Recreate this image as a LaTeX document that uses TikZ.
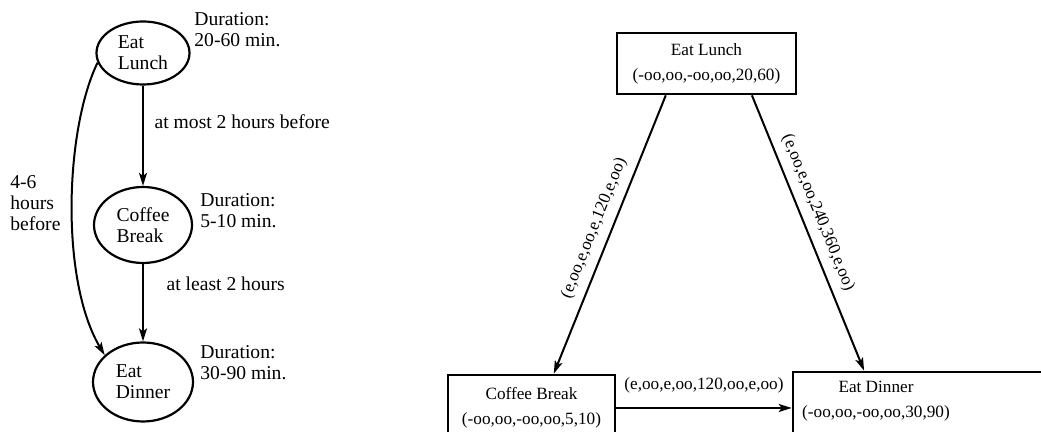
\documentclass[tikz,border=0pt]{standalone}
\usepackage{fontspec}
\setmainfont{Liberation Serif}
\usetikzlibrary{arrows.meta,shapes.geometric}

\newcommand{\graphfont}{\fontsize{9.8}{10.4}\selectfont}
\newcommand{\netfont}{\fontsize{8.6}{12.5}\selectfont}

\begin{document}
\begin{tikzpicture}[x=0.5pt, y=-0.5pt,
  act/.style={draw, ellipse, line width=1.1pt, inner sep=0pt, align=left, font=\graphfont},
  note/.style={anchor=west, align=left, inner sep=0pt, font=\graphfont},
  arr/.style={line width=1pt, -{Stealth[length=6.5pt,width=4pt,inset=1.5pt]}},
  box/.style={draw, line width=1.3pt, inner sep=0pt, align=center, font=\netfont},
  tuple/.style={font=\netfont, sloped, inner sep=3pt}]
\useasboundingbox (0,0) rectangle (1041,432);

% left: the three activities
\node[act, minimum width=46.5pt, minimum height=31.5pt] (lunchE) at (143,53) {Eat\\Lunch};
\node[act, minimum width=49pt, minimum height=38pt] (coffeeE) at (143,225) {Coffee\\Break};
\node[act, minimum width=50pt, minimum height=39.5pt] (dinnerE) at (143,382) {Eat\\Dinner};

\node[note] (durL) at (194,30) {Duration:\\20-60 min.};
\node[note] (durC) at (200,211) {Duration:\\5-10 min.};
\node[note] (durD) at (200,363) {Duration:\\30-90 min.};
\node[note] (sixlbl) at (10,203) {4-6\\hours\\before};

\draw[arr] (lunchE) -- node[font=\graphfont, right=2pt, pos=0.36] (mostlbl) {at most 2 hours before} (coffeeE);
\draw[arr] (coffeeE) -- node[font=\graphfont, right=8pt, pos=0.25] (leastlbl) {at least 2 hours} (dinnerE);
\draw[arr] (lunchE.192) .. controls (65,130) and (60,280) .. (dinnerE.145);

% right: the same plan as a network
\node[box, minimum width=89.5pt, minimum height=30.5pt] (lunch) at (706.5,63.5)
  {Eat Lunch\\(-oo,oo,-oo,oo,20,60)};
\node[box, minimum width=83.5pt, minimum height=33pt] (coffee) at (531.5,408)
  {Coffee Break\\(-oo,oo,-oo,oo,5,10)};
\node[box, minimum width=127pt, minimum height=35pt] (dinner) at (920,407) {};
\node[font=\netfont, align=center, inner sep=0pt] (dinnertxt) at (876,401)
  {Eat Dinner\\(-oo,oo,-oo,oo,30,90)};

\draw[arr] (lunch.218) -- node[tuple, above=1pt] (tupLC) {(e,oo,e,oo,e,120,e,oo)} (coffee.57);
\draw[arr] (lunch.325) -- node[tuple, above=1pt, pos=0.45] (tupLD) {(e,oo,e,oo,240,360,e,oo)} (dinner.147.5);
\draw[arr] (coffee.east) -- node[tuple, above=4pt] (tupCD) {(e,oo,e,oo,120,oo,e,oo)} (coffee.east -| dinner.west);
\end{tikzpicture}
\end{document}
